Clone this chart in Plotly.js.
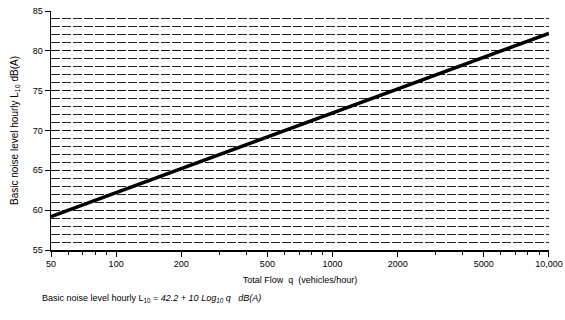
<!DOCTYPE html>
<html>
<head>
<meta charset="utf-8">
<script src="https://cdn.plot.ly/plotly-3.0.1.min.js"></script>
<style>html,body{margin:0;padding:0;background:#fff;}#chart{width:565px;height:320px;}</style>
</head>
<body>
<div id="chart"></div>
<script>
// Data
const flowQ = [50, 100, 200, 500, 1000, 2000, 5000, 10000];
const noiseL10 = [59.2, 62.2, 65.2, 69.2, 72.2, 75.2, 79.2, 82.2];
const xTickVals = [50, 100, 200, 500, 1000, 2000, 5000, 10000];
const xTickText = ['50', '100', '200', '500', '1000', '2000', '5000', '10,000'];
const xMinorVals = [60, 70, 80, 90, 300, 400, 600, 700, 800, 900, 3000, 4000, 6000, 7000, 8000, 9000];
const yTickVals = [55, 60, 65, 70, 75, 80, 85];

const fontFam = 'Arial, "Liberation Sans", sans-serif';

const trace = {
  x: flowQ, y: noiseL10, type: 'scatter', mode: 'lines',
  line: {color: '#000', width: 3.5}, hoverinfo: 'skip', showlegend: false
};

const layout = {
  width: 565, height: 320,
  margin: {l: 51, r: 16, t: 11, b: 70},
  paper_bgcolor: '#fff', plot_bgcolor: '#fff',
  font: {family: fontFam, size: 9, color: '#000'},
  xaxis: {
    type: 'log', range: [Math.log10(50), 4.0004],
    tickvals: xTickVals, ticktext: xTickText,
    ticks: 'outside', ticklen: 5, tickwidth: 1, tickcolor: '#000',
    showline: true, linecolor: '#000', linewidth: 1.5,
    showgrid: false, zeroline: false,
    ticklabeloverflow: 'allow',
    tickfont: {size: 9, family: fontFam},
    minor: {tickvals: xMinorVals, ticks: 'outside', ticklen: 3, tickcolor: '#000', showgrid: false},
    title: {text: 'Total Flow  q  (vehicles/hour)', font: {size: 9, family: fontFam}, standoff: 8}
  },
  yaxis: {
    range: [55, 85], tickvals: yTickVals,
    ticks: 'outside', ticklen: 5, tickwidth: 1, tickcolor: '#000',
    showline: true, linecolor: '#000', linewidth: 1.5,
    showgrid: true, gridcolor: '#111', gridwidth: 1, griddash: '9px,2px',
    zeroline: false,
    tickfont: {size: 9, family: fontFam},
    minor: {dtick: 1, showgrid: true, gridcolor: '#222', gridwidth: 1, griddash: '9px,2px', ticks: ''},
    title: {text: 'Basic noise level hourly L<sub>10</sub> dB(A)', font: {size: 10, family: fontFam}, standoff: 12}
  },
  annotations: [{
    xref: 'paper', yref: 'paper', x: -0.022, y: -0.17, xanchor: 'left', yanchor: 'top',
    showarrow: false, align: 'left',
    text: 'Basic noise level hourly L<sub>10</sub> = <i>42.2 + 10 Log<sub>10</sub> q   dB(A)</i>',
    font: {size: 9, family: fontFam, color: '#000'}
  }]
};

Plotly.newPlot('chart', [trace], layout, {displayModeBar: false, staticPlot: true});
</script>
</body>
</html>
